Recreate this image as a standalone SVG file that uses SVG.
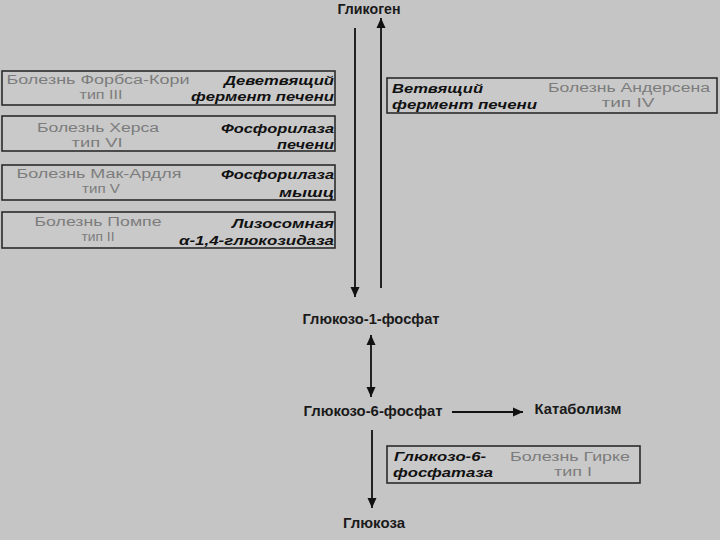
<svg xmlns="http://www.w3.org/2000/svg" width="720" height="540" viewBox="0 0 720 540">
<defs>
<marker id="ah" viewBox="0 0 10 10" refX="10" refY="5" markerWidth="10" markerHeight="10" markerUnits="userSpaceOnUse" orient="auto-start-reverse">
<path d="M0,0.5 L10,5 L0,9.5 z" fill="#111"/>
</marker>
<style>
.box{fill:#c9c9c9;stroke:#2b2b2b;stroke-width:1.6}
.dis{font-family:"Liberation Sans",Arial,sans-serif;font-size:12.5px;fill:#7c7c7c;text-anchor:middle}
.enz{font-family:"Liberation Sans",Arial,sans-serif;font-size:13.5px;font-weight:bold;font-style:italic;fill:#111}
.enzr{text-anchor:end}
.lbl{font-family:"Liberation Sans",Arial,sans-serif;font-size:14px;font-weight:bold;fill:#1a1a1a;text-anchor:middle}
.ln{stroke:#111;stroke-width:1.8;fill:none}
</style>
</defs>
<rect x="0" y="0" width="720" height="540" fill="#c5c5c5"/>

<g id="connectors">
<line class="ln" x1="355" y1="28" x2="355" y2="297" marker-end="url(#ah)"/>
<line class="ln" x1="381" y1="288" x2="381" y2="18" marker-end="url(#ah)"/>
<line class="ln" x1="371" y1="335" x2="371" y2="397" marker-start="url(#ah)" marker-end="url(#ah)"/>
<line class="ln" x1="452" y1="412" x2="523" y2="412" marker-end="url(#ah)"/>
<line class="ln" x1="372" y1="430" x2="372" y2="508" marker-end="url(#ah)"/>
</g>

<g id="glycogen"><text class="lbl" x="369" y="14" textLength="63" lengthAdjust="spacingAndGlyphs">Гликоген</text></g>
<g id="g1p"><text class="lbl" x="371" y="324" textLength="137" lengthAdjust="spacingAndGlyphs">Глюкозо-1-фосфат</text></g>
<g id="g6p"><text class="lbl" x="373" y="416" textLength="139" lengthAdjust="spacingAndGlyphs">Глюкозо-6-фосфат</text></g>
<g id="catabolism"><text class="lbl" x="578" y="414" textLength="87" lengthAdjust="spacingAndGlyphs">Катаболизм</text></g>
<g id="glucose"><text class="lbl" x="374" y="528" textLength="62" lengthAdjust="spacingAndGlyphs">Глюкоза</text></g>

<g id="forbes-cori">
<rect class="box" x="2" y="71" width="333" height="34"/>
<text class="dis" x="98" y="84" textLength="183" lengthAdjust="spacingAndGlyphs">Болезнь Форбса-Кори</text>
<text class="dis" x="101" y="99" textLength="43" lengthAdjust="spacingAndGlyphs">тип III</text>
<text class="enz enzr" x="334" y="85" textLength="110" lengthAdjust="spacingAndGlyphs">Деветвящий</text>
<text class="enz enzr" x="334" y="101" textLength="143" lengthAdjust="spacingAndGlyphs">фермент печени</text>
</g>

<g id="hers">
<rect class="box" x="2" y="116" width="333" height="35"/>
<text class="dis" x="98" y="132" textLength="122" lengthAdjust="spacingAndGlyphs">Болезнь Херса</text>
<text class="dis" x="97" y="147" textLength="51" lengthAdjust="spacingAndGlyphs">тип VI</text>
<text class="enz enzr" x="334" y="133" textLength="113" lengthAdjust="spacingAndGlyphs">Фосфорилаза</text>
<text class="enz enzr" x="334" y="149" textLength="57" lengthAdjust="spacingAndGlyphs">печени</text>
</g>

<g id="mcardle">
<rect class="box" x="2" y="165" width="333" height="35"/>
<text class="dis" x="99" y="178" textLength="165" lengthAdjust="spacingAndGlyphs">Болезнь Мак-Ардля</text>
<text class="dis" x="101" y="193" textLength="38" lengthAdjust="spacingAndGlyphs">тип V</text>
<text class="enz enzr" x="334" y="179" textLength="113" lengthAdjust="spacingAndGlyphs">Фосфорилаза</text>
<text class="enz enzr" x="334" y="197" textLength="55" lengthAdjust="spacingAndGlyphs">мышц</text>
</g>

<g id="pompe">
<rect class="box" x="2" y="212" width="333" height="36"/>
<text class="dis" x="98" y="226" textLength="127" lengthAdjust="spacingAndGlyphs">Болезнь Помпе</text>
<text class="dis" x="98" y="241" textLength="33" lengthAdjust="spacingAndGlyphs">тип II</text>
<text class="enz enzr" x="334" y="228" textLength="102" lengthAdjust="spacingAndGlyphs">Лизосомная</text>
<text class="enz enzr" x="334" y="245" textLength="155" lengthAdjust="spacingAndGlyphs">α-1,4-глюкозидаза</text>
</g>

<g id="andersen">
<rect class="box" x="387" y="78" width="330" height="35"/>
<text class="enz" x="392" y="93" textLength="91" lengthAdjust="spacingAndGlyphs">Ветвящий</text>
<text class="enz" x="392" y="109" textLength="145" lengthAdjust="spacingAndGlyphs">фермент печени</text>
<text class="dis" x="629" y="92" textLength="162" lengthAdjust="spacingAndGlyphs">Болезнь Андерсена</text>
<text class="dis" x="628" y="107" textLength="53" lengthAdjust="spacingAndGlyphs">тип IV</text>
</g>

<g id="gierke">
<rect class="box" x="387" y="446" width="253" height="37"/>
<text class="enz" x="394" y="461" textLength="92" lengthAdjust="spacingAndGlyphs">Глюкозо-6-</text>
<text class="enz" x="393" y="477" textLength="100" lengthAdjust="spacingAndGlyphs">фосфатаза</text>
<text class="dis" x="570" y="461" textLength="120" lengthAdjust="spacingAndGlyphs">Болезнь Гирке</text>
<text class="dis" x="573" y="476" textLength="38" lengthAdjust="spacingAndGlyphs">тип I</text>
</g>
</svg>
